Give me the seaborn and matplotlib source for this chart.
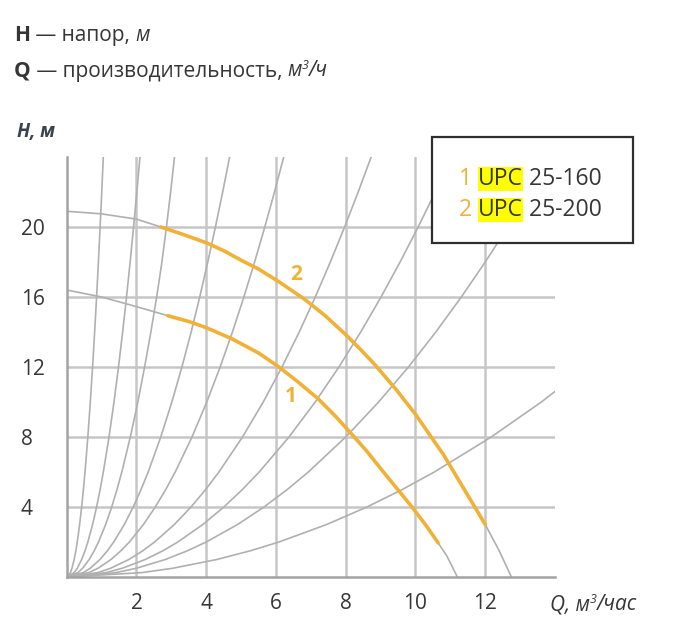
import matplotlib
matplotlib.use("Agg")
import matplotlib.pyplot as plt
import matplotlib.patches as mpatches
import pandas as pd
import seaborn as sns

# system curves: Q read where each grey curve crosses these heads
SYS_H = [0, 0.25, 0.5, 1, 1.5, 2, 3, 4, 5, 6, 8, 10, 12, 14, 16, 18, 20, 22, 24]
SYS_Q = [
    [0, .107, .151, .214, .262, .303, .371, .428, .479, .525, .606, .677, .742, .801, .857, .909, .958, 1.005, 1.049],
    [0, .214, .303, .429, .525, .606, .743, .857, .959, 1.05, 1.213, 1.356, 1.485, 1.604, 1.715, 1.819, 1.917, 2.011, 2.10],
    [0, .323, .456, .645, .79, .912, 1.117, 1.29, 1.442, 1.58, 1.824, 2.04, 2.234, 2.413, 2.58, 2.73, 2.86, 2.98, 3.09],
    [0, .477, .674, .954, 1.168, 1.348, 1.652, 1.907, 2.132, 2.336, 2.697, 3.015, 3.303, 3.568, 3.814, 4.045, 4.264, 4.472, 4.671],
    [0, .635, .898, 1.27, 1.555, 1.796, 2.2, 2.54, 2.84, 3.111, 3.592, 4.016, 4.399, 4.752, 5.08, 5.388, 5.68, 5.957, 6.222],
    [0, .891, 1.26, 1.782, 2.182, 2.52, 3.086, 3.564, 3.984, 4.365, 5.04, 5.635, 6.172, 6.667, 7.127, 7.559, 7.968, 8.357, 8.729],
    [0, 1.127, 1.593, 2.253, 2.759, 3.186, 3.903, 4.506, 5.038, 5.519, 6.373, 7.125, 7.805, 8.43, 9.012, 9.559, 10.076, 10.568, 11.038],
    [0, 1.414, 2.0, 2.828, 3.464, 4.0, 4.899, 5.657, 6.325, 6.928, 8.0, 8.944, 9.798, 10.583, 11.314, 12.0, 12.649, 13.266, 13.856],
    [0, 2.152, 3.043, 4.303, 5.27, 6.086, 7.454, 8.607, 9.623, 10.541, 12.172, 13.608, 14.907, 16.1, 17.21, 18.26, 19.25, 20.18, 21.08],
]

# pump curves (full line) and the part drawn in orange
PUMP1_Q = [0, 1, 2, 2.9, 3.5, 4, 4.75, 5.5, 6.05, 6.6, 7.2, 7.7, 8.2, 8.6, 9.0, 9.45, 9.9, 10.3, 10.65, 10.9, 11.2]
PUMP1_H = [16.4, 16.0, 15.45, 14.93, 14.6, 14.25, 13.6, 12.8, 12.05, 11.2, 10.2, 9.2, 8.1, 7.2, 6.2, 5.1, 4.0, 2.95, 1.95, 1.2, 0]
PUMP1_RANGE = (2.9, 10.65)

PUMP2_Q = [0, 1, 2, 2.7, 3.3, 4, 4.5, 5, 5.5, 6.1, 6.8, 7.4, 8, 8.45, 8.85, 9.45, 10, 10.45, 10.8, 11.1, 11.4, 11.7, 12.0, 12.4, 12.75]
PUMP2_H = [20.9, 20.75, 20.45, 20.0, 19.6, 19.1, 18.65, 18.1, 17.6, 16.85, 15.9, 14.95, 13.85, 12.95, 12.1, 10.7, 9.3, 8.0, 7.0, 6.0, 5.0, 4.0, 3.0, 1.5, 0]
PUMP2_RANGE = (2.7, 12.0)

X_TICKS = [2, 4, 6, 8, 10, 12]
Y_TICKS = [4, 8, 12, 16, 20]
MODELS = ["25-160", "25-200"]

W, H = 700, 628
GRID = "#c6c6c6"
CURVE = "#b0b0b0"
ORANGE = "#f1b136"
TXT = "#363636"

sns.set_style("white")
plt.rcParams["font.family"] = ["Open Sans", "DejaVu Sans"]

fig = plt.figure(figsize=(W / 100, H / 100), dpi=100)
ax = fig.add_axes([66.7 / W, (H - 577) / H, (555 - 66.7) / W, (577 - 157) / H])

sys_df = pd.DataFrame(
    [(i, q, h) for i, qs in enumerate(SYS_Q) for q, h in zip(qs, SYS_H)],
    columns=["curve", "Q", "H"],
)
sns.lineplot(data=sys_df, x="Q", y="H", units="curve", estimator=None, sort=False,
             color=CURVE, lw=1.2, ax=ax, zorder=2)

for qs, hs, (q0, q1) in [(PUMP1_Q, PUMP1_H, PUMP1_RANGE), (PUMP2_Q, PUMP2_H, PUMP2_RANGE)]:
    df = pd.DataFrame({"Q": qs, "H": hs})
    sns.lineplot(data=df, x="Q", y="H", sort=False, estimator=None,
                 color=CURVE, lw=1.2, ax=ax, zorder=2)
    part = df[(df.Q >= q0) & (df.Q <= q1)]
    sns.lineplot(data=part, x="Q", y="H", sort=False, estimator=None,
                 color=ORANGE, lw=2.6, ax=ax, zorder=3)

ax.text(6.57, 17.3, "2", color=ORANGE, fontsize=15, fontweight="bold",
        ha="center", va="center", zorder=4)
ax.text(6.43, 10.3, "1", color=ORANGE, fontsize=15, fontweight="bold",
        ha="center", va="center", zorder=4)

ax.set_xlim(0, 14)
ax.set_ylim(0, 24)
ax.set_xticks(X_TICKS)
ax.set_yticks(Y_TICKS)
ax.set_xlabel("")
ax.set_ylabel("")
ax.grid(True, color=GRID, lw=1.8, zorder=1)
ax.set_axisbelow(True)
for s in ["top", "right"]:
    ax.spines[s].set_visible(False)
for s in ["left", "bottom"]:
    ax.spines[s].set_color("#a3a3a3")
    ax.spines[s].set_linewidth(1.8)
ax.tick_params(axis="x", length=0, pad=11.5, labelsize=15, labelcolor=TXT)
ax.tick_params(axis="y", length=0, pad=33, labelsize=15, labelcolor=TXT)
for lab in ax.get_yticklabels():
    lab.set_horizontalalignment("left")


def chain(parts, x, y, size):
    # write pieces of text one after another on one baseline
    prev = base = None
    for s, kw in parts:
        kw = dict(kw)
        rise = kw.pop("rise", None)
        fs = kw.pop("size", size)
        col = kw.pop("color", TXT)
        common = dict(fontsize=fs, color=col, annotation_clip=False, zorder=6, ha="left", **kw)
        if prev is None:
            t = ax.annotate(s, xy=(x / W, 1 - y / H), xycoords="figure fraction",
                            va="baseline", **common)
        elif rise is not None:
            t = ax.annotate(s, xy=(1, rise), xycoords=prev, va="bottom", **common)
        else:
            t = ax.annotate(s, xy=(1, 0), xycoords=(prev, base), va="bottom", **common)
        if rise is None:
            base = t
        prev = t
    return prev


chain([("H", {"fontweight": "bold"}), (" — напор, ", {}), ("м", {"style": "italic"})],
      14, 41, 15)
chain([("Q", {"fontweight": "bold"}), (" — производительность, ", {}),
       ("м", {"style": "italic"}), ("3", {"style": "italic", "size": 9, "rise": 0.45}),
       ("/ч", {"style": "italic"})], 14, 76.5, 15)

chain([("H, м", {"style": "italic", "fontweight": "bold", "color": "#3d4250"})], 17, 137, 13.5)
chain([("Q, м", {"style": "italic"}), ("3", {"style": "italic", "size": 9, "rise": 0.45}),
       ("/час", {"style": "italic"})], 550, 610, 15)

# legend box
box = mpatches.Rectangle((431.7 / W, 1 - 243.3 / H), (633.3 - 431.7) / W, (243.3 - 137.3) / H,
                         transform=fig.transFigure, facecolor="white", edgecolor="#2f2f2f",
                         lw=1.6, zorder=5, clip_on=False)
ax.add_artist(box)
for i, (model, base) in enumerate(zip(MODELS, [185, 216])):
    chain([(f"{i + 1} ", {"color": ORANGE}),
           ("UPC", {"bbox": dict(facecolor="#ffff00", edgecolor="none", pad=0.2)}),
           (f" {model}", {})], 459, base, 16.5)

fig.savefig("out.png", dpi=100)
